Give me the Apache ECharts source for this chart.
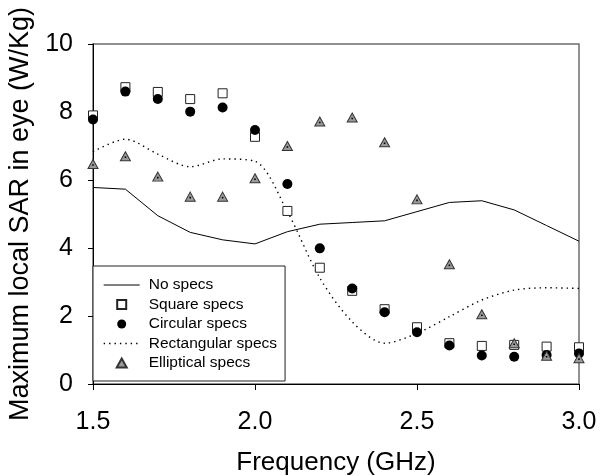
<!DOCTYPE html>
<html><head><meta charset="utf-8">
<script src="https://cdn.jsdelivr.net/npm/echarts@6/dist/echarts.min.js"></script>
<style>html,body{margin:0;padding:0;background:#fff}#c{width:600px;height:476px}</style>
</head><body><div id="c"></div>
<script>
const frequency = [1.5,1.6,1.7,1.8,1.9,2.0,2.1,2.2,2.3,2.4,2.5,2.6,2.7,2.8,2.9,3.0];
const noSpecs     = [5.78,5.73,4.95,4.46,4.24,4.12,4.48,4.70,4.75,4.80,5.07,5.34,5.39,5.12,4.66,4.20];
const squareSpecs = [7.90,8.73,8.59,8.38,8.55,7.27,5.09,3.42,2.74,2.20,1.67,1.20,1.12,1.15,1.10,1.08];
const circularSpecs = [7.78,8.60,8.38,8.01,8.13,7.47,5.88,3.99,2.81,2.11,1.52,1.13,0.84,0.80,0.85,0.90];
const rectangularSpecs = [6.83,7.20,6.76,6.39,6.62,6.55,5.07,3.12,1.83,1.20,1.49,1.98,2.47,2.76,2.83,2.81];
const ellipticalSpecs = [6.47,6.70,6.10,5.51,5.51,6.05,7.00,7.72,7.84,7.11,5.43,3.52,2.05,1.20,0.83,0.76];
const xTickLabels = ['1.5','2.0','2.5','3.0'];
const yTickLabels = ['0','2','4','6','8','10'];
const seriesNames = ['No specs','Square specs','Circular specs','Rectangular specs','Elliptical specs'];

const pairs = arr => frequency.map((f, i) => [f, arr[i]]);
const FONT = 'Liberation Sans, Arial, sans-serif';
const SQUARE_ICON = 'path://M0,0H10V10H0Z';
const TRIANGLE_ICON = 'path://M5,0L10,9L0,9Z';
const chart = echarts.init(document.getElementById('c'), null, {renderer: 'canvas'});
chart.setOption({
  animation: false,
  backgroundColor: '#fff',
  grid: {left: 93, right: 21, top: 44, bottom: 92, outerBoundsMode: 'none', containLabel: false,
    show: true, borderColor: '#6e6e6e', borderWidth: 1.5, backgroundColor: 'transparent'},
  xAxis: {
    type: 'value', min: 1.5, max: 3.0, interval: 0.5,
    name: 'Frequency (GHz)', nameLocation: 'middle', nameGap: 66,
    nameTextStyle: {fontFamily: FONT, fontSize: 26, color: '#000'},
    axisLine: {onZero: false, lineStyle: {color: '#000', width: 1}},
    axisTick: {length: 6, lineStyle: {color: '#000'}},
    axisLabel: {fontFamily: FONT, fontSize: 25, color: '#000', margin: 26,
      formatter: v => xTickLabels[Math.round((v - 1.5) / 0.5)]},
    splitLine: {show: false}
  },
  yAxis: {
    type: 'value', min: 0, max: 10, interval: 2,
    name: 'Maximum local SAR in eye (W/Kg)', nameLocation: 'middle', nameGap: 58,
    nameTextStyle: {fontFamily: FONT, fontSize: 27, color: '#000'},
    axisLine: {onZero: false, lineStyle: {color: '#000', width: 1}},
    axisTick: {length: 5, lineStyle: {color: '#000'}},
    axisLabel: {fontFamily: FONT, fontSize: 25, color: '#000', margin: 20,
      formatter: v => yTickLabels[Math.round(v / 2)]},
    splitLine: {show: false}
  },
  legend: {
    orient: 'vertical', left: 93, top: 266,
    padding: [11, 8, 10, 10],
    backgroundColor: '#fff', borderColor: '#222', borderWidth: 1, borderRadius: 0,
    itemWidth: 36, itemHeight: 9, itemGap: 3.5, symbolKeepAspect: true,
    textStyle: {fontFamily: FONT, fontSize: 15.5, color: '#000', lineHeight: 16, padding: [0, 0, 0, 4]},
    data: [
      {name: seriesNames[0], itemStyle: {color: 'rgba(0,0,0,0)', borderWidth: 0}, lineStyle: {width: 1}},
      {name: seriesNames[1], icon: SQUARE_ICON},
      {name: seriesNames[2]},
      {name: seriesNames[3], itemStyle: {color: 'rgba(0,0,0,0)', borderWidth: 0}, lineStyle: {width: 1.4}},
      {name: seriesNames[4], icon: TRIANGLE_ICON}
    ],
    selectedMode: false
  },
  series: [
    {name: seriesNames[0], type: 'line', data: pairs(noSpecs), symbol: 'none',
      lineStyle: {color: '#000', width: 1}, itemStyle: {color: '#000'}, z: 2},
    {name: seriesNames[3], type: 'line', data: pairs(rectangularSpecs), symbol: 'none', smooth: 0.3,
      lineStyle: {color: '#000', width: 1.4, type: [1.4, 4]}, itemStyle: {color: '#000'}, z: 2},
    {name: seriesNames[1], type: 'scatter', data: pairs(squareSpecs), symbol: 'rect', symbolSize: 9, symbolKeepAspect: true,
      itemStyle: {color: '#fff', borderColor: '#222', borderWidth: 1, opacity: 1}, z: 3},
    {name: seriesNames[2], type: 'scatter', data: pairs(circularSpecs), symbol: 'circle', symbolSize: 10,
      itemStyle: {color: '#000', borderColor: '#000', borderWidth: 0, opacity: 1}, z: 4},
    {name: seriesNames[4], type: 'scatter', data: pairs(ellipticalSpecs), symbol: 'triangle', symbolSize: [10, 9], symbolKeepAspect: true,
      itemStyle: {color: '#9a9a9a', borderColor: '#333', borderWidth: 1, opacity: 1}, z: 5},
    {name: 'ellipticalDot', type: 'scatter', data: pairs(ellipticalSpecs), symbol: 'rect', symbolSize: 1.6,
      symbolOffset: [0, 1], itemStyle: {color: '#000', opacity: 1}, z: 6, silent: true}
  ]
});
</script></body></html>
